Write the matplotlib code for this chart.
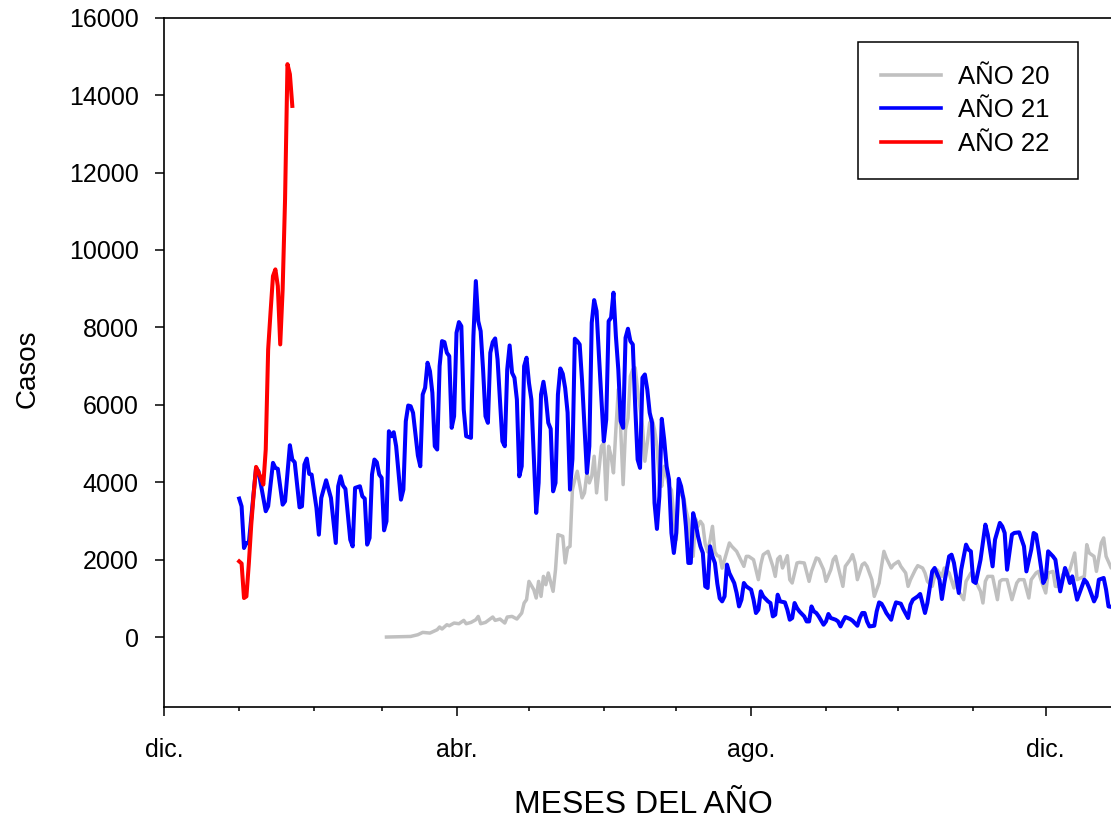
import matplotlib
matplotlib.use("Agg")
import matplotlib.pyplot as plt
from matplotlib.ticker import FixedLocator, NullFormatter

plt.rcParams['font.family'] = ['Liberation Sans', 'DejaVu Sans']

# ---- data: day of year (0 = 1 January) and daily cases ----
dias_20 = [61, 67, 71, 74, 76, 79, 82, 83, 84, 86, 87, 89, 91, 93, 94, 96, 98, 99, 100,
           102, 105, 106, 108, 110, 111, 113, 115, 117, 118, 119, 120, 122, 123, 124, 125,
           126, 127, 128, 130, 131, 132, 134, 135, 136, 137, 138, 139, 140, 142, 143, 144,
           145, 146, 147, 148, 149, 150, 151, 152, 153, 154, 155, 156, 157, 158, 159, 160,
           161, 162, 163, 164, 165, 167, 168, 169, 170, 171, 172, 173, 174, 175, 176, 177,
           178, 179, 180, 181, 182, 183, 184, 185, 186, 187, 188, 189, 190, 191, 192, 193,
           194, 195, 196, 197, 198, 199, 200, 201, 203, 204, 206, 207, 209, 210, 211, 213,
           215, 216, 217, 219, 220, 221, 222, 223, 224, 225, 227, 228, 229, 231, 232, 234,
           236, 237, 239, 240, 242, 243, 245, 246, 247, 248, 250, 251, 253, 254, 255, 256,
           258, 259, 260, 262, 263, 265, 266, 267, 268, 270, 271, 273, 274, 276, 277, 278,
           280, 281, 283, 284, 285, 287, 288, 289, 291, 292, 294, 296, 297, 298, 300, 301,
           303, 304, 305, 307, 308, 309, 310, 312, 314, 315, 316, 318, 320, 322, 323, 325,
           327, 328, 330, 331, 332, 334, 335, 337, 338, 340, 341, 343, 344, 346, 347, 350,
           351, 352, 354, 355, 357, 358, 359, 361]
casos_20 = [0, 10, 15, 60, 120, 103, 189, 259, 207, 318, 292, 362, 344, 430, 344, 378, 447,
            533, 344, 378, 517, 430, 465, 362, 517, 533, 465, 620, 879, 965, 1438, 1223,
            1008, 1438, 1050, 1567, 1352, 1655, 1180, 1740, 2646, 2602, 1914, 2301, 2343,
            3809, 4068, 4283, 3595, 3724, 4241, 3982, 4153, 4670, 3724, 4326, 4929, 5017,
            3550, 4929, 4670, 4241, 5361, 6395, 5361, 3938, 5361, 5650, 6739, 6912, 6956,
            6395, 5446, 4541, 5017, 5534, 5619, 5361, 4929, 4068, 3895, 4412, 4153, 3895,
            3800, 3119, 2516, 3724, 3680, 3636, 3292, 3033, 2430, 2084, 3050, 2860, 2990,
            2900, 2400, 2200, 2500, 2860, 2200, 2100, 2084, 1780, 2000, 2430, 2343, 2214,
            2084, 1826, 2084, 2084, 1999, 1482, 1870, 2128, 2214, 2017, 1826, 1567, 2017,
            2084, 1784, 2102, 1482, 1396, 1914, 1929, 1914, 1438, 1696, 2043, 2017, 1740,
            1438, 1740, 1999, 2084, 1826, 1309, 1826, 1999, 2128, 1914, 1482, 1870, 1914,
            1826, 1482, 1050, 1396, 1826, 2214, 2043, 1784, 1870, 1955, 1826, 1655, 1309,
            1482, 1740, 1844, 1784, 1655, 1438, 1309, 1567, 1740, 1567, 1784, 1655, 1267,
            1567, 1180, 965, 1438, 1655, 1655, 1438, 1180, 879, 1438, 1567, 1567, 965, 1438,
            1482, 1482, 965, 1396, 1482, 1482, 1008, 1482, 1655, 1696, 1482, 1138, 1655,
            1696, 1309, 1309, 1611, 1611, 1740, 2172, 1482, 1567, 2387, 2172, 2084, 1696,
            2430, 2560, 2084, 1800]

dias_21 = [0, 1, 2, 3, 4, 7, 8, 11, 12, 14, 15, 16, 18, 19, 21, 22, 23, 25, 26, 27, 28, 29,
           30, 32, 33, 34, 36, 38, 40, 41, 42, 43, 44, 46, 47, 48, 50, 51, 52, 53, 54, 55,
           56, 57, 58, 59, 60, 61, 62, 63, 64, 65, 67, 68, 69, 70, 71, 72, 74, 75, 76, 77,
           78, 79, 80, 81, 82, 83, 84, 85, 86, 87, 88, 89, 90, 91, 92, 93, 94, 96, 97, 98,
           99, 100, 101, 102, 103, 104, 105, 106, 107, 109, 110, 111, 112, 113, 114, 115,
           116, 117, 118, 119, 120, 121, 123, 124, 125, 126, 127, 128, 129, 130, 131, 132,
           133, 134, 135, 136, 137, 138, 139, 140, 141, 142, 143, 144, 145, 146, 147, 148,
           149, 151, 152, 153, 154, 155, 156, 157, 158, 159, 160, 161, 162, 163, 164, 165,
           166, 167, 168, 169, 170, 171, 172, 173, 174, 175, 176, 177, 178, 179, 180, 181,
           182, 183, 184, 185, 186, 187, 188, 189, 190, 191, 192, 193, 194, 195, 196, 197,
           198, 199, 200, 201, 202, 203, 205, 206, 207, 208, 209, 210, 212, 213, 214, 215,
           216, 217, 219, 220, 221, 222, 223, 224, 226, 227, 228, 229, 230, 231, 232, 234,
           235, 236, 237, 238, 239, 240, 242, 243, 244, 245, 247, 248, 249, 250, 251, 253,
           254, 256, 257, 258, 259, 260, 261, 263, 264, 265, 266, 267, 268, 270, 271, 272,
           274, 275, 277, 278, 279, 281, 282, 284, 285, 287, 288, 290, 291, 292, 294, 295,
           296, 298, 299, 301, 302, 303, 304, 305, 307, 309, 310, 312, 313, 315, 316, 317,
           318, 320, 321, 323, 325, 326, 328, 329, 330, 331, 333, 334, 335, 337, 338, 339,
           340, 341, 342, 343, 344, 345, 347, 348, 350, 351, 352, 354, 355, 356, 358, 359,
           360, 361]
casos_21 = [3577, 3377, 2300, 2430, 2430, 4370, 4280, 3250, 3380, 4500, 4370, 4345, 3420,
            3507, 4955, 4585, 4515, 3350, 3377, 4455, 4610, 4215, 4197, 3336, 2645, 3595,
            4050, 3595, 2430, 3895, 4153, 3913, 3827, 2516, 2343, 3853, 3895, 3636, 3577,
            2387, 2560, 4197, 4585, 4515, 4197, 4112, 2757, 2990, 5317, 5188, 5291, 4929,
            3550, 3809, 5575, 5981, 5963, 5793, 4690, 4412, 6266, 6439, 7086, 6868, 6310,
            4929, 4844, 6998, 7645, 7619, 7344, 7257, 5405, 5705, 7861, 8136, 8032, 5878,
            5188, 5146, 7774, 9196, 8161, 7903, 6912, 5705, 5534, 7344, 7619, 7714, 7171,
            5058, 4929, 6912, 7533, 6827, 6698, 6137, 4153, 4412, 6998, 7215, 6568, 6137,
            3207, 3982, 6266, 6594, 6180, 5534, 5379, 3765, 3982, 6266, 6938, 6800, 6430,
            5800, 3809, 4600, 7706, 7645, 7559, 6610, 5446, 4241, 4929, 8120, 8704, 8420,
            7257, 5058, 5619, 8161, 8249, 8896, 7774, 6912, 5575, 5405, 7732, 7965, 7645,
            7559, 5963, 4585, 4370, 6698, 6783, 6395, 5793, 5534, 3465, 2793, 3636, 5637,
            5102, 4412, 4068, 2689, 2172, 2689, 4086, 3895, 3550, 2860, 1914, 1914, 3200,
            2950, 2602, 2343, 2172, 1309, 1267, 2343, 2084, 1914, 1380, 1000, 921, 1050,
            1870, 1650, 1396, 1138, 791, 965, 1396, 1309, 1223, 965, 621, 706, 1180, 1050,
            921, 879, 533, 577, 1094, 921, 895, 706, 447, 491, 879, 750, 662, 533, 403, 403,
            791, 662, 621, 533, 318, 403, 595, 491, 447, 403, 274, 403, 517, 465, 422, 292,
            491, 621, 621, 403, 274, 292, 662, 895, 861, 750, 621, 447, 706, 895, 861, 724,
            491, 835, 965, 1050, 1112, 621, 879, 1696, 1784, 1482, 983, 1396, 2084, 2128,
            1914, 1138, 1740, 2387, 2258, 2214, 1438, 1396, 1999, 2904, 2646, 1826, 2516,
            2948, 2860, 2689, 1740, 2646, 2689, 2705, 2343, 1696, 2258, 2689, 2646, 2258,
            1396, 1526, 2214, 2084, 1999, 1567, 1180, 1482, 1784, 1611, 1396, 1567, 965,
            1138, 1482, 1412, 1267, 921, 1050, 1482, 1526, 1223, 791, 780]

dias_22 = [0, 1, 2, 3, 4, 5, 6, 7, 8, 9, 10, 11, 12, 13, 14, 15, 16, 17, 18, 19, 20, 21, 22]
casos_22 = [1955, 1900, 1008, 1050, 1900, 2900, 3700, 4396, 4250, 4112, 3938, 4844, 7430,
            8400, 9325, 9498, 9067, 7559, 8981, 11308, 14800, 14540, 13721]

series_labels = ['AÑO 20', 'AÑO 21', 'AÑO 22']
mes_inicio = [-31, 0, 31, 59, 90, 120, 151, 181, 212, 243, 273, 304, 334]
mes_etiquetas = {-31: 'dic.', 90: 'abr.', 212: 'ago.', 334: 'dic.'}
y_ticks = [0, 2000, 4000, 6000, 8000, 10000, 12000, 14000, 16000]

# ---- figure ----
fig = plt.figure(figsize=(11.11, 8.19), dpi=100)
ax = fig.add_axes([0.1479, 0.1371, 0.8629, 0.8413])

ax.plot(dias_20, casos_20, color='#c0c0c0', lw=2.5, label=series_labels[0], zorder=2)
ax.plot(dias_21, casos_21, color='#0000ff', lw=2.9, label=series_labels[1], zorder=3)
ax.plot(dias_22, casos_22, color='#ff0000', lw=2.9, label=series_labels[2], zorder=4)

ax.set_xlim(-31, 366)
ax.set_ylim(-1800, 16000)

major = [m for m in mes_inicio if m in mes_etiquetas]
minor = [m for m in mes_inicio if m not in mes_etiquetas]
ax.xaxis.set_major_locator(FixedLocator(major))
ax.set_xticklabels([mes_etiquetas[m] for m in major])
ax.xaxis.set_minor_locator(FixedLocator(minor))
ax.xaxis.set_minor_formatter(NullFormatter())
ax.set_yticks(y_ticks)
ax.set_yticklabels([str(v) for v in y_ticks])

ax.tick_params(axis='both', which='major', direction='out', length=6.5, width=1.1,
               labelsize=18, color='black')
ax.tick_params(axis='y', which='major', pad=12)
ax.tick_params(axis='x', which='major', pad=16)
ax.tick_params(axis='x', which='minor', direction='out', length=3.2, width=1.1)
ax.tick_params(top=False, right=False)

for s in ax.spines.values():
    s.set_linewidth(1.2)
ax.spines['right'].set_visible(False)

ax.set_xlabel('MESES DEL AÑO', fontsize=23)
ax.xaxis.set_label_coords(0.5, -0.121)
ax.set_ylabel('Casos', fontsize=20)
ax.yaxis.set_label_coords(-0.129, 0.49)

# legend box: x 858..1078 px, y 42..178 px
lx0, lx1 = 858.3 / 1111, 1077.7 / 1111
ly_top = 1 - 41.7 / 819
leg = ax.legend(loc='upper left', bbox_to_anchor=(lx0, ly_top - 0.2, lx1 - lx0, 0.2),
                mode='expand', bbox_transform=fig.transFigure, borderaxespad=0,
                fontsize=18.5, frameon=True, fancybox=False, shadow=False, framealpha=1,
                edgecolor='black', handlelength=2.33, handletextpad=0.65,
                borderpad=0.9, labelspacing=0.37)
leg.get_frame().set_linewidth(1.1)
for line in leg.get_lines():
    line.set_linewidth(2.6)

fig.savefig('out.png', dpi=100)
